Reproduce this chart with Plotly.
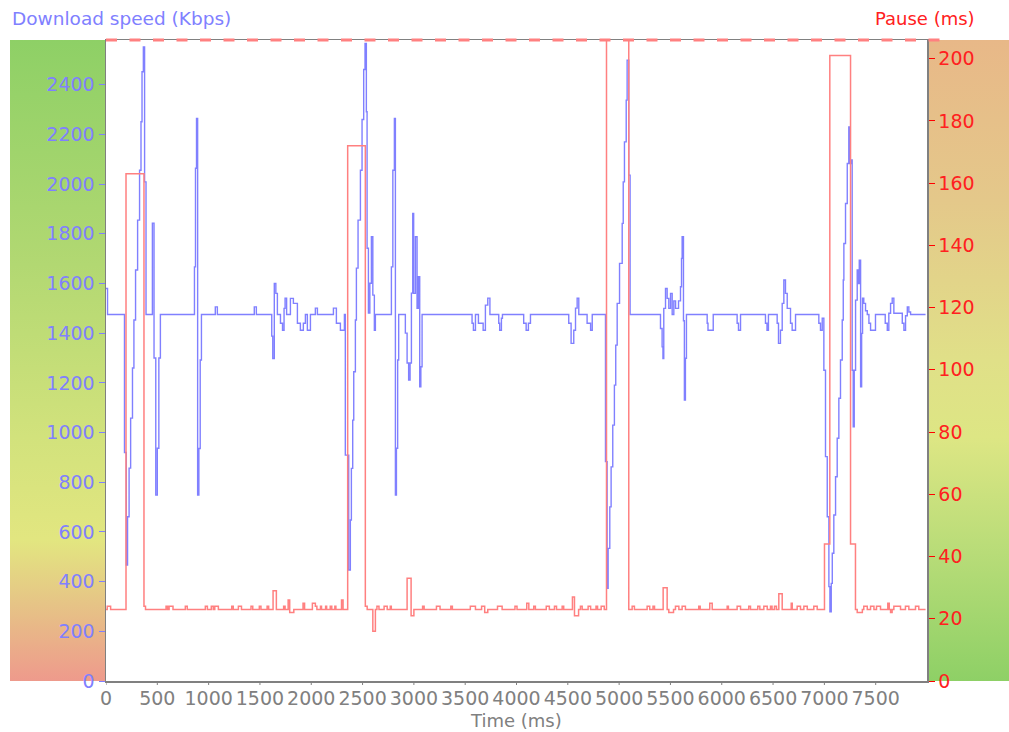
import base64
import plotly.graph_objects as go

# ---------------- data ----------------
speed_t = [0, 15, 180, 198, 210, 225, 240, 258, 272, 288, 308, 327, 341, 351, 364, 376, 390,
           452, 468, 485, 500, 515, 530,
           862, 872, 882, 893, 905, 918, 930,
           1065, 1085, 1445, 1465,
           1615, 1625, 1640, 1655, 1670, 1700, 1720, 1735, 1745, 1760,
           1797, 1826, 1865, 1894, 1923, 1943, 1962, 1992, 2040, 2060, 2216, 2245, 2284, 2323,
           2332, 2365, 2381, 2391, 2404, 2414, 2430, 2440, 2456, 2479, 2495, 2511, 2524, 2537, 2544,
           2557, 2571, 2586, 2600, 2615, 2625,
           2781, 2795, 2810, 2820, 2830, 2842, 2852,
           2917, 2934, 2949, 2963, 2976, 2989, 2998, 3015, 3031, 3044, 3057, 3068, 3080,
           3567, 3580, 3600, 3629, 3675, 3697, 3720, 3741, 3827, 3836, 3853, 3863,
           4070, 4094, 4116, 4136, 4509, 4532, 4558, 4575, 4591, 4607, 4688, 4722, 4738,
           4867, 4883, 4893, 4909, 4922, 4938, 4954, 4967, 4981, 5004, 5030, 5040, 5052, 5069, 5078, 5094, 5107,
           5403, 5419, 5427, 5435, 5452, 5468, 5484, 5501, 5517, 5533, 5550, 5579, 5598, 5608, 5614,
           5627, 5636, 5646, 5656,
           5858, 5866, 5917, 6150, 6163, 6183, 6426, 6441, 6455,
           6540, 6553, 6572, 6589, 6605, 6621, 6638, 6670, 6686, 6719,
           6946, 6962, 6979, 6995, 7011, 7028, 7044, 7054, 7067, 7077, 7092, 7109, 7125, 7141, 7157,
           7174, 7184, 7190, 7206, 7223, 7238, 7248, 7265, 7271, 7281, 7291, 7304, 7320, 7330, 7340,
           7353, 7363, 7372, 7384, 7401, 7418, 7434, 7450, 7498,
           7593, 7613, 7628, 7645, 7661, 7677, 7759, 7775, 7791, 7808, 7823, 7840, 7986]
speed_kbps = [1580, 1475, 920, 467, 661, 857, 1058, 1260, 1453, 1654, 1855, 2056, 2251, 2452, 2552, 2009, 1475,
              1843, 1300, 748, 937, 1300, 1475,
              1667, 2064, 2264, 748, 936, 1292, 1475,
              1506, 1475, 1506, 1475,
              1388, 1298, 1600, 1560, 1475, 1440, 1412, 1500, 1541, 1475,
              1540, 1520, 1440, 1412, 1440, 1475, 1412, 1475, 1501, 1475, 1501, 1440, 1412, 1475,
              909, 447, 648, 856, 1050, 1245, 1453, 1662, 1855, 2056, 2260, 2461, 2566, 2291, 1742,
              1481, 1601, 1788, 1553, 1412, 1475,
              1667, 2056, 2264, 748, 937, 1292, 1475,
              1400, 1280, 1211, 1280, 1561, 1882, 1560, 1788, 1500, 1627, 1184, 1265, 1475,
              1440, 1412, 1475, 1440, 1412, 1513, 1541, 1475, 1440, 1412, 1460, 1475,
              1440, 1412, 1440, 1475, 1440, 1359, 1412, 1501, 1541, 1475, 1440, 1412, 1475,
              883, 373, 534, 701, 862, 1030, 1191, 1352, 1520, 1681, 1842, 2009, 2170, 2338, 2499, 2036, 1475,
              1419, 1345, 1298, 1500, 1580, 1540, 1500, 1560, 1475, 1530, 1500, 1530, 1587, 1701, 1788,
              1450, 1131, 1299, 1475,
              1440, 1412, 1475, 1440, 1412, 1475, 1440, 1412, 1475,
              1440, 1359, 1412, 1520, 1614, 1560, 1500, 1440, 1412, 1475,
              1440, 1412, 1460, 1251, 903, 661, 380, 279, 393, 514, 668, 822, 977, 1138, 1292,
              1453, 1614, 1761, 1922, 2083, 2230, 2083, 2097, 1251, 1023, 1251, 1533, 1654, 1600, 1694,
              1184, 1399, 1541, 1520, 1490, 1475, 1440, 1412, 1475,
              1440, 1412, 1480, 1520, 1541, 1480, 1440, 1412, 1470, 1506, 1485, 1475, 1475]

pause_t = [0, 12, 45, 195, 370, 385, 585, 600, 615, 653, 773, 792, 968, 988, 1026, 1045, 1060, 1095,
           1225, 1240, 1290, 1320, 1413, 1430, 1494, 1510, 1570, 1585, 1628, 1660, 1731, 1745,
           1775, 1790, 1830, 1920, 1935, 2011, 2040, 2055, 2090, 2100, 2140, 2150, 2185, 2200,
           2230, 2240, 2295, 2310, 2355, 2527, 2545, 2600, 2625, 2640, 2660, 2710, 2740, 2770, 2780,
           2934, 2973, 3000, 3085, 3100, 3220, 3255, 3360, 3375, 3550, 3600, 3660, 3690, 3720,
           3815, 3860, 3985, 4005, 4100, 4120, 4168, 4184, 4290, 4320, 4370, 4390, 4445, 4460,
           4545, 4565, 4605, 4623, 4640, 4698, 4722, 4775, 4790, 4825, 4855, 4877, 5094,
           5127, 5149, 5273, 5298, 5330, 5345, 5429, 5468, 5484, 5530, 5549, 5582, 5614, 5646,
           5776, 5790, 5883, 5907, 6053, 6065, 6150, 6183, 6263, 6280, 6351, 6371, 6410, 6443,
           6475, 6490, 6514, 6533, 6556, 6589, 6677, 6687, 6735, 6767, 6800, 6833, 6897, 6930,
           7001, 7053, 7255, 7303, 7320, 7370, 7384, 7418, 7450, 7483, 7508, 7547, 7618, 7632,
           7645, 7660, 7677, 7742, 7790, 7823, 7888, 7920, 7986]
pause_ms = [23, 24, 23, 163, 24, 23, 24, 23, 24, 23, 24, 23, 24, 23, 24, 23, 24, 23,
            24, 23, 24, 23, 24, 23, 24, 23, 24, 23, 29, 23, 24, 23,
            26, 22, 23, 25, 23, 25, 24, 23, 24, 23, 24, 23, 24, 23,
            24, 23, 26, 23, 172, 24, 23, 16, 23, 24, 23, 24, 23, 24, 23,
            33, 21, 23, 24, 23, 24, 23, 24, 23, 24, 23, 24, 22, 23,
            24, 23, 24, 23, 25, 23, 24, 23, 24, 23, 24, 23, 24, 23,
            27, 21, 23, 24, 23, 24, 23, 24, 23, 24, 23, 230, 23,
            24, 23, 24, 23, 24, 23, 30, 23, 22, 23, 24, 23, 24, 23,
            24, 23, 25, 23, 24, 23, 24, 23, 24, 23, 24, 23, 24, 23,
            24, 23, 24, 23, 28, 23, 25, 23, 24, 23, 24, 23, 24, 23,
            44, 201, 44, 23, 22, 23, 24, 23, 24, 23, 24, 23, 25, 23,
            22, 23, 24, 23, 24, 23, 24, 23, 23]

x_ticks = [0, 500, 1000, 1500, 2000, 2500, 3000, 3500, 4000, 4500, 5000, 5500, 6000, 6500, 7000, 7500]
speed_ticks = [0, 200, 400, 600, 800, 1000, 1200, 1400, 1600, 1800, 2000, 2200, 2400]
pause_ticks = [0, 20, 40, 60, 80, 100, 120, 140, 160, 180, 200]

# ---------------- styling ----------------
FONT = "DejaVu Sans"
BLUE = "#8080ff"
RED_LINE = "#ff8080"
RED_TXT = "#ff2020"
GRAY = "#808080"

W, H = 1009, 732
L, R, T, B = 106, 82, 40, 51
PW, PH = W - L - R, H - T - B


def grad_uri(stops):
    st = "".join(f'<stop offset="{o}" stop-color="{c}"/>' for o, c in stops)
    svg = ('<svg xmlns="http://www.w3.org/2000/svg" width="100" height="600" viewBox="0 0 100 600" '
           'preserveAspectRatio="none"><defs><linearGradient id="g" x1="0" y1="0" x2="0" y2="1">'
           + st + '</linearGradient></defs><rect x="0" y="0" width="100" height="600" fill="url(#g)"/></svg>')
    return "data:image/svg+xml;base64," + base64.b64encode(svg.encode()).decode()


left_grad = grad_uri([(0, "#8ed066"), (0.35, "#b2d872"), (0.62, "#d2e27c"), (0.78, "#e2e680"),
                      (0.88, "#e6c486"), (1, "#ee9a8c")])
right_grad = grad_uri([(0, "#e8b888"), (0.25, "#e4c88a"), (0.5, "#e0e088"), (0.62, "#dde684"),
                       (0.8, "#b8dc78"), (1, "#8ed066")])

fig = go.Figure()
fig.add_trace(go.Scatter(x=pause_t, y=pause_ms, yaxis="y2", mode="lines",
                         line=dict(color=RED_LINE, width=1.5, shape="hv"), hoverinfo="skip"))
fig.add_trace(go.Scatter(x=speed_t, y=speed_kbps, mode="lines",
                         line=dict(color=BLUE, width=1.4, shape="hv"), hoverinfo="skip"))

# x tick marks drawn at the tick values (labels come from the axis itself)
tick_shapes = [dict(type="line", xref="x", yref="paper", x0=v, x1=v, y0=0, y1=-4 / PH,
                    line=dict(color=GRAY, width=1)) for v in x_ticks]

fig.update_layout(
    width=W, height=H, margin=dict(l=L, r=R, t=T, b=B, pad=0),
    paper_bgcolor="white", plot_bgcolor="white", showlegend=False,
    font=dict(family=FONT, size=18, color=GRAY),
    xaxis=dict(range=[0, 8000], tickvals=x_ticks, ticktext=[str(v) for v in x_ticks],
               showgrid=False, zeroline=False, showline=True, linecolor=GRAY, linewidth=1.5,
               mirror=True, ticks="", tickfont=dict(family=FONT, size=19, color=GRAY)),
    yaxis=dict(range=[0, 2580], tickvals=speed_ticks, showgrid=False, zeroline=False,
               showline=True, linecolor=GRAY, linewidth=1.5, ticks="outside", ticklen=6,
               tickcolor=BLUE, tickfont=dict(family=FONT, size=19, color=BLUE)),
    yaxis2=dict(range=[0, 206], tickvals=pause_ticks, overlaying="y", side="right",
                showgrid=False, zeroline=False, showline=True, linecolor=GRAY, linewidth=1.5,
                ticks="outside", ticklen=6, tickcolor="#ff0000",
                tickfont=dict(family=FONT, size=19, color=RED_TXT)),
    images=[
        dict(source=left_grad, xref="paper", yref="paper", x=(10 - L) / PW, y=1,
             sizex=(L - 10) / PW, sizey=1, sizing="stretch", xanchor="left", yanchor="top",
             layer="below"),
        dict(source=right_grad, xref="paper", yref="paper", x=1, y=1,
             sizex=(W - L - PW) / PW, sizey=1, sizing="stretch", xanchor="left", yanchor="top",
             layer="below"),
    ],
    shapes=tick_shapes + [
        dict(type="line", xref="paper", yref="paper", x0=0, x1=(945 - L) / PW, y0=1, y1=1,
             line=dict(color=RED_LINE, width=3, dash="11px,12.5px"))],
    annotations=[
        dict(text="Download speed (Kbps)", xref="paper", yref="paper", x=(10 - L) / PW,
             y=1 + (T - 18) / PH, xanchor="left", yanchor="middle", showarrow=False,
             font=dict(family=FONT, size=18.5, color=BLUE)),
        dict(text="Pause (ms)", xref="paper", yref="paper", x=(977 - L) / PW,
             y=1 + (T - 18) / PH, xanchor="right", yanchor="middle", showarrow=False,
             font=dict(family=FONT, size=18, color=RED_TXT)),
        dict(text="Time (ms)", xref="paper", yref="paper", x=(516 - L) / PW,
             y=-(720 - (T + PH)) / PH, xanchor="center", yanchor="middle", showarrow=False,
             font=dict(family=FONT, size=18, color=GRAY)),
    ],
)

fig.write_html("out.html", config={"displayModeBar": False, "staticPlot": True},
               post_script="document.body.style.margin='0';document.body.style.overflow='hidden';")
